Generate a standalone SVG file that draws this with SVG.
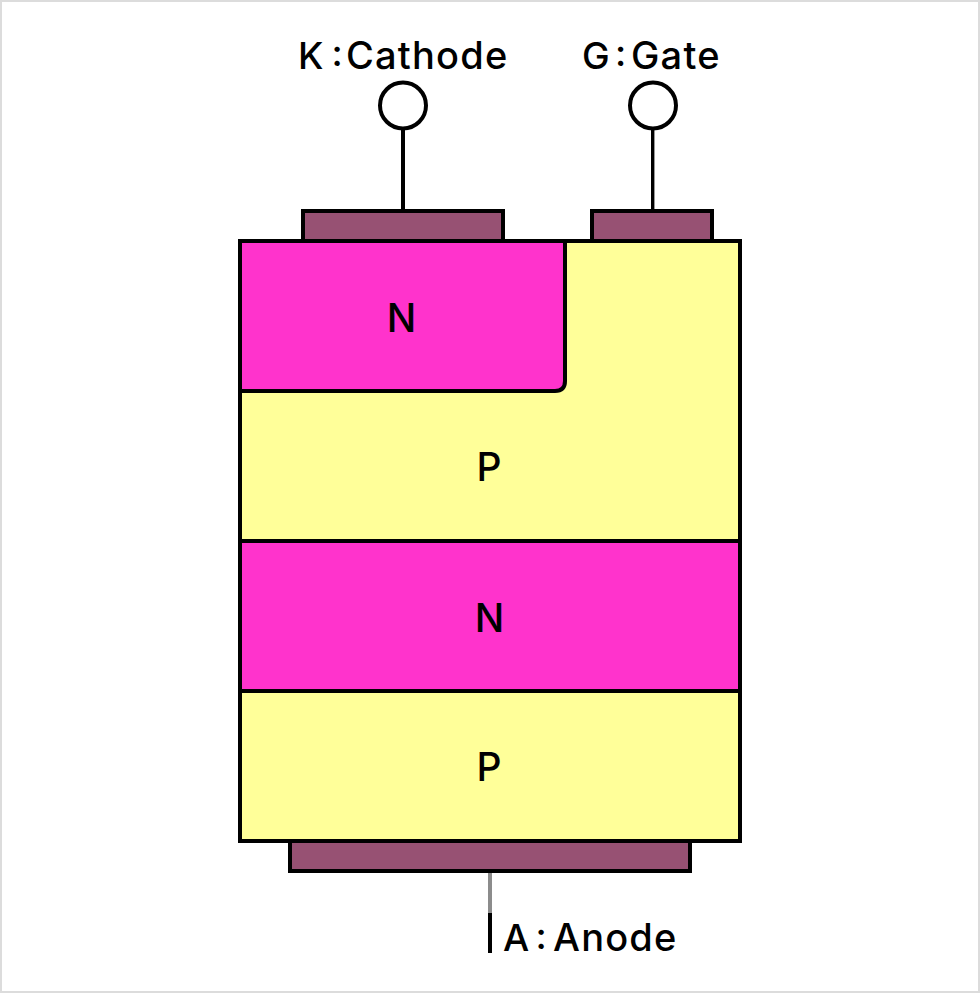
<svg xmlns="http://www.w3.org/2000/svg" width="980" height="993" viewBox="0 0 980 993">
<style>
.o{stroke:#000;stroke-width:4}
.m{fill:#975173}
.p{fill:#ffff99}
.n{fill:#ff33cc}
.w{stroke:#000;stroke-width:4;fill:none}
text{font-family:"Inter","Liberation Sans",sans-serif;font-size:37px;font-weight:500;fill:#000}
.l{font-size:38px;letter-spacing:1.2px}
.c{text-anchor:middle;font-size:39px}
</style>
<rect x="1" y="1" width="978" height="991" fill="#fff" stroke="#dcdcdc" stroke-width="2"/>
<g id="connectors">
<line class="w" x1="403" y1="128" x2="403" y2="211"/>
<line class="w" x1="652.700" y1="128" x2="652.700" y2="211" style="stroke-width:3.400px"/>
<line x1="490" y1="871" x2="490" y2="913" stroke="#8c8c8c" stroke-width="4"/>
<line class="w" x1="490" y1="913" x2="490" y2="953"/>
</g>
<g id="terminal-k"><circle class="o" cx="403" cy="105.500" r="23" fill="#fff"/><text x="298" y="68.500">K</text><text x="331.500" y="66">:</text><text class="l" x="346" y="68.500">Cathode</text></g>
<g id="terminal-g"><circle class="o" cx="653" cy="105.500" r="23" fill="#fff"/><text x="582" y="68.500">G</text><text x="615" y="66">:</text><text class="l" x="631" y="68.500">Gate</text></g>
<g id="contact-k"><rect class="o m" x="303" y="211" width="200" height="30"/></g>
<g id="contact-g"><rect class="o m" x="592" y="211" width="120" height="30"/></g>
<g id="contact-a"><rect class="o m" x="290" y="841" width="400" height="30"/></g>
<g id="layer-p1"><rect class="o p" x="240" y="241" width="500" height="300"/><text class="c" x="489" y="481">P</text></g>
<g id="layer-n1"><path class="o n" d="M240 241H565V381Q565 391 555 391H240Z"/><text class="c" x="401.500" y="332">N</text></g>
<g id="layer-n2"><rect class="o n" x="240" y="541" width="500" height="150"/><text class="c" x="489.500" y="632">N</text></g>
<g id="layer-p2"><rect class="o p" x="240" y="691" width="500" height="150"/><text class="c" x="489" y="781">P</text></g>
<g id="terminal-a"><text x="503" y="951">A</text><text x="535.500" y="948.500">:</text><text class="l" x="553" y="951">Anode</text></g>
</svg>
